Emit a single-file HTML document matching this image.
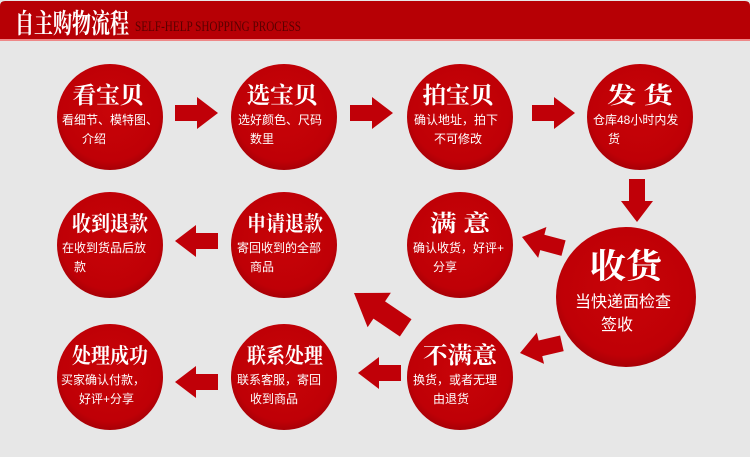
<!DOCTYPE html>
<html><head><meta charset="utf-8"><style>
html,body{margin:0;padding:0;width:750px;height:457px;overflow:hidden;background:#e7e7e7;}
svg{display:block}
.t{font-family:"Noto Serif CJK SC","Liberation Serif",serif;font-weight:bold;fill:#fff;text-anchor:middle}
.s{font-family:"Liberation Sans","Noto Sans CJK SC",sans-serif;fill:#fff;font-size:12px}
</style></head><body>
<svg width="750" height="457" viewBox="0 0 750 457" xmlns="http://www.w3.org/2000/svg">
<defs>
<radialGradient id="g" cx="50%" cy="45%" r="55%">
<stop offset="0" stop-color="#c80408"/><stop offset="0.85" stop-color="#bf0006"/><stop offset="1" stop-color="#a80006"/>
</radialGradient>
<path id="a" d="M0,0 L-21,-16 L-21,-8 L-43,-8 L-43,8 L-21,8 L-21,16 Z" fill="#c00008"/>
</defs>
<path d="M0,40 L0,6 Q0,1 5,1 L745,1 Q750,1 750,6 L750,40 Z" fill="#b70005"/>
<rect x="0" y="39" width="750" height="2" fill="#e88"/>
<text x="15" y="33" font-family="'Noto Serif CJK SC',serif" font-weight="bold" font-size="27" fill="#fff" textLength="114" lengthAdjust="spacingAndGlyphs">自主购物流程</text>
<text x="135" y="31" font-family="Liberation Serif,serif" font-size="15" fill="#5a0000" textLength="166" lengthAdjust="spacingAndGlyphs">SELF-HELP SHOPPING PROCESS</text>

<g fill="url(#g)">
<circle cx="110" cy="117" r="53"/><circle cx="284" cy="117" r="53"/><circle cx="460" cy="117" r="53"/><circle cx="640" cy="117" r="53"/>
<circle cx="110" cy="245" r="53"/><circle cx="284" cy="245" r="53"/><circle cx="460" cy="245" r="53"/>
<circle cx="110" cy="377" r="53"/><circle cx="284" cy="377" r="53"/><circle cx="460" cy="377" r="53"/>
<circle cx="626" cy="297" r="70"/>
</g>

<use href="#a" transform="translate(218,113)"/>
<use href="#a" transform="translate(393,113)"/>
<use href="#a" transform="translate(575,113)"/>
<use href="#a" transform="translate(637,222) rotate(90)"/>
<use href="#a" transform="translate(175,241) rotate(180)"/>
<use href="#a" transform="translate(175,382) rotate(180)"/>
<use href="#a" transform="translate(358,373) rotate(180)"/>
<use href="#a" transform="translate(522,237) rotate(195)"/>
<use href="#a" transform="translate(520,353) rotate(167)"/>
<use href="#a" transform="translate(354,293) rotate(214) scale(1.45,1.3)"/>

<g class="t" font-size="23">
<text x="108" y="103" textLength="71" lengthAdjust="spacingAndGlyphs">看宝贝</text>
<text x="282" y="103" textLength="71" lengthAdjust="spacingAndGlyphs">选宝贝</text>
<text x="458" y="103" textLength="71" lengthAdjust="spacingAndGlyphs">拍宝贝</text>
<text x="640" y="103" textLength="66" lengthAdjust="spacingAndGlyphs">发 货</text>
<text x="110" y="231" font-size="21" textLength="76" lengthAdjust="spacingAndGlyphs">收到退款</text>
<text x="285" y="231" font-size="21" textLength="76" lengthAdjust="spacingAndGlyphs">申请退款</text>
<text x="460" y="231" textLength="60" lengthAdjust="spacingAndGlyphs">满 意</text>
<text x="110" y="363" font-size="21" textLength="76" lengthAdjust="spacingAndGlyphs">处理成功</text>
<text x="285" y="363" font-size="21" textLength="76" lengthAdjust="spacingAndGlyphs">联系处理</text>
<text x="460" y="363" textLength="74" lengthAdjust="spacingAndGlyphs">不满意</text>
<text x="626" y="278" font-size="34" textLength="72" lengthAdjust="spacingAndGlyphs">收货</text>
</g>
<g class="s">
<text x="62" y="124">看细节、模特图、</text><text x="82" y="143">介绍</text>
<text x="238" y="124">选好颜色、尺码</text><text x="250" y="143">数里</text>
<text x="414" y="124">确认地址，拍下</text><text x="434" y="143">不可修改</text>
<text x="593" y="124">仓库48小时内发</text><text x="608" y="143">货</text>
<text x="62" y="252">在收到货品后放</text><text x="74" y="271">款</text>
<text x="237" y="252">寄回收到的全部</text><text x="250" y="271">商品</text>
<text x="413" y="252">确认收货，好评+</text><text x="433" y="271">分享</text>
<text x="61" y="384">买家确认付款，</text><text x="79" y="403">好评+分享</text>
<text x="237" y="384">联系客服，寄回</text><text x="250" y="403">收到商品</text>
<text x="413" y="384">换货，或者无理</text><text x="433" y="403">由退货</text>
<text x="575" y="307" font-size="16">当快递面检查</text><text x="601" y="330" font-size="16">签收</text>
</g>
</svg>
</body></html>
